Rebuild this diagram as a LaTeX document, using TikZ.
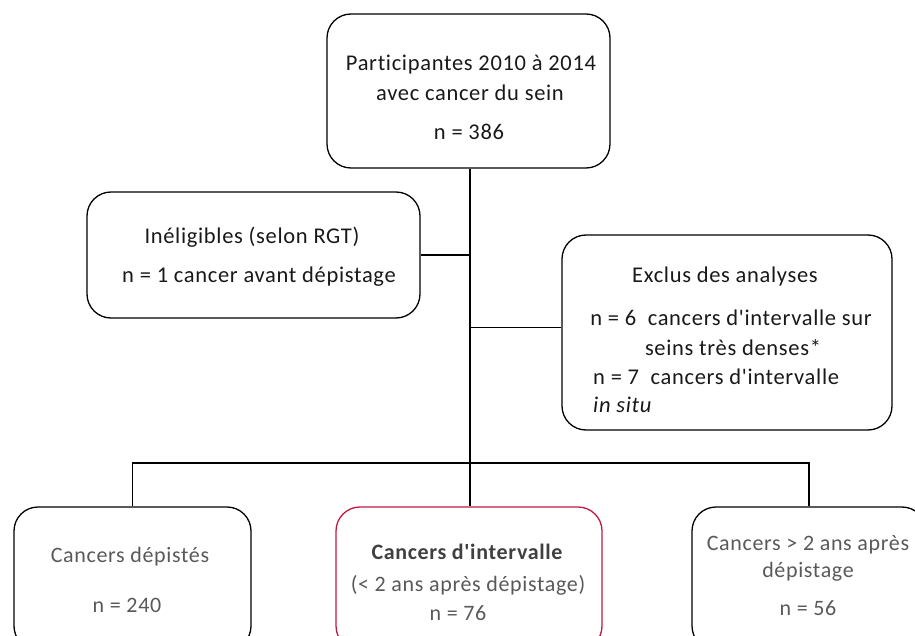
\documentclass[tikz,border=0pt]{standalone}
\usepackage{fontspec}
\setmainfont{Carlito}[LetterSpace=3,Ligatures={TeXOff,NoCommon}]
\definecolor{txtdark}{RGB}{25,25,25}
\definecolor{txtgrey}{RGB}{89,89,89}
\definecolor{txtbold}{RGB}{64,64,64}
\definecolor{redline}{RGB}{192,24,64}
\begin{document}
\begin{tikzpicture}[x=1pt,y=-1pt,
  box/.style={draw=black,line width=1.3pt,rounded corners=24pt,minimum width=#1,inner sep=0pt},
  txt/.style={inner sep=0pt,font=\fontsize{22.5}{26}\selectfont,text=txtdark},
  gtxt/.style={inner sep=0pt,font=\fontsize{22}{26}\selectfont,text=txtgrey},
  link/.style={line width=1.2pt},
  trunk/.style={line width=2.2pt}]
\useasboundingbox (0,0) rectangle (915,636);
% boxes
\node[box=283pt,minimum height=154pt] (top) at (468.5,91) {};
\node[box=333pt,minimum height=126pt] (inel) at (253.5,255) {};
\node[box=330pt,minimum height=195pt] (excl) at (727,332.5) {};
\node[box=237pt,minimum height=143pt] (scr) at (132.5,578.5) {};
\node[box=266pt,minimum height=143pt,draw=redline] (intv) at (469,578.5) {};
\node[box=234pt,minimum height=143pt] (late) at (809,578.5) {};
% texts
\node[txt] (t1) at (471,65) {Participantes 2010 à 2014};
\node[txt] (t2) at (470,93) {avec cancer du sein};
\node[txt] (t3) at (469,132) {n = 386};
\node[txt] (i1) at (252,237) {Inéligibles (selon RGT)};
\node[txt] (i2) at (259,277) {n = 1 cancer avant dépistage};
\node[txt] (e1) at (725,277) {Exclus des analyses};
\node[txt] (e2) at (731,318) {n = 6~~cancers d'intervalle sur};
\node[txt] (e3) at (733,348) {seins très denses*};
\node[txt,anchor=west] (e4) at (593,377) {n = 7~~cancers d'intervalle};
\node[txt,anchor=west] (e5) at (593,405) {\itshape in situ};
\node[gtxt] (s1) at (130,557) {Cancers dépistés};
\node[gtxt] (s2) at (127,605) {n = 240};
\node[gtxt,text=txtbold] (v1) at (467,552) {\bfseries Cancers d'intervalle};
\node[gtxt] (v2) at (468,585) {(< 2 ans après dépistage)};
\node[gtxt] (v3) at (458,613) {n = 76};
\node[gtxt] (l1) at (808,545) {Cancers > 2 ans après};
\node[gtxt] (l2) at (808,572) {dépistage};
\node[gtxt] (l3) at (808,608) {n = 56};
% connectors
\coordinate (hub) at (470,463);
\coordinate (exclin) at ([yshift=5pt]excl.west);
\draw[trunk] (top.south -| hub) -- (hub);
\draw[link] (inel.east) -- (inel.east -| hub);
\draw[link] (exclin) -- (exclin -| hub);
\draw[link] (scr.north) -- (scr.north |- hub) -- (late.north |- hub) -- (late.north);
\draw[link] (hub) -- (hub |- intv.north);
\end{tikzpicture}
\end{document}
